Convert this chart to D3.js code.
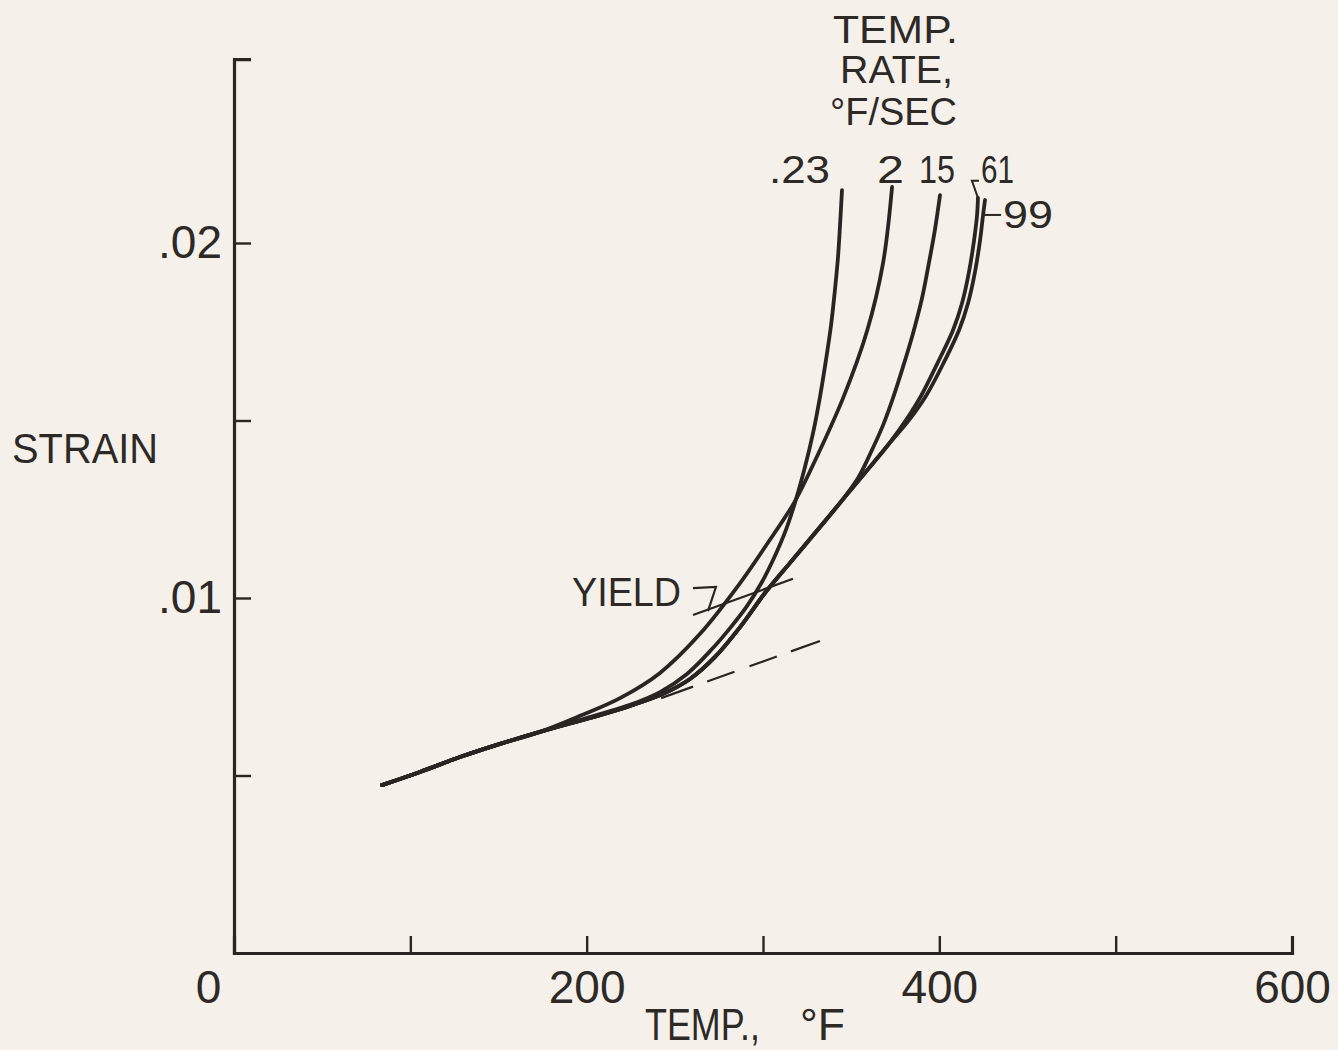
<!DOCTYPE html>
<html>
<head>
<meta charset="utf-8">
<script src="https://cdn.jsdelivr.net/npm/d3@7"></script>
<style>
  body { margin: 0; background: #f5f1ea; }
  svg { display: block; }
  text { font-family: "Liberation Sans", Arial, sans-serif; fill: #2d2926; }
</style>
</head>
<body>
<div id="chart"></div>
<script>
// temperature (deg F) / strain pairs
const rateLabels = [".23", "2", "15", "61", "99"];

// part shared by every curve
const trunk = [[83.9, 0.00473], [105.5, 0.0051], [128.2, 0.00552], [150.9, 0.00589], [173.5, 0.00623]];

const rate023 = [
  [207.6, 0.00673], [224.6, 0.00699], [241.6, 0.00735], [256.9, 0.00786], [271.6, 0.00859],
  [281.3, 0.00915], [290.9, 0.00977], [299.4, 0.01045], [305.7, 0.01107], [313.0, 0.01192],
  [318.1, 0.01268], [323.8, 0.01369], [328.4, 0.01465], [332.3, 0.01566], [335.7, 0.0167],
  [338.6, 0.01769], [340.8, 0.01868], [342.5, 0.01958], [343.7, 0.02051], [344.8, 0.02149]
];

const rate2 = [
  [196.2, 0.00668], [218.9, 0.00718], [241.6, 0.00789], [264.3, 0.00899], [287.0, 0.01042],
  [302.3, 0.01152], [317.6, 0.01268], [327.8, 0.01369], [345.4, 0.01563], [359.0, 0.01752],
  [368.1, 0.01944], [373.2, 0.02158]
];

// lower branch shared by the three fast rates
const fastBranch = [
  [207.6, 0.0067], [224.6, 0.00696], [243.3, 0.0073], [258.6, 0.00772], [272.8, 0.00834],
  [287.0, 0.00918], [301.1, 0.01014], [315.3, 0.01099], [329.5, 0.01183], [343.7, 0.01268]
];

const rate15 = [
  [353.9, 0.01338], [361.8, 0.01417], [368.1, 0.01487], [373.7, 0.01563], [379.4, 0.01651],
  [385.1, 0.01746], [390.2, 0.01845], [394.1, 0.01944], [397.5, 0.02037], [400.4, 0.02135]
];

const rate61 = [
  [357.8, 0.01352], [370.9, 0.01431], [381.1, 0.01501], [389.6, 0.01569], [398.7, 0.01659],
  [407.8, 0.01755], [412.9, 0.01831], [416.8, 0.01918], [419.7, 0.02008], [421.4, 0.02079],
  [421.9, 0.02127]
];

const rate99 = [
  [357.8, 0.01352], [370.9, 0.01431], [382.8, 0.01501], [392.4, 0.01569], [402.1, 0.01659],
  [411.2, 0.01755], [416.3, 0.01831], [420.2, 0.01918], [423.1, 0.02008], [424.8, 0.02079],
  [425.9, 0.02121]
];

// elastic line (dashed) and the 0.002 offset line for yield
const elasticLine = [[242.2, 0.00718], [332.3, 0.00879]];
const offsetLine = [[260.3, 0.00952], [317.0, 0.01054]];

const xTicks = [0, 100, 200, 300, 400, 500, 600];
const xTickLabels = { 0: "0", 200: "200", 400: "400", 600: "600" };
const yTicks = [0.005, 0.01, 0.015, 0.02];
const yTickLabels = { 0.01: ".01", 0.02: ".02" };

const ink = "#2a2522";
const width = 1338;
const height = 1050;

const svg = d3
  .select("#chart")
  .append("svg")
  .attr("width", width)
  .attr("height", height);

const x = d3.scaleLinear().domain([0, 600]).range([234, 1292]);
const y = d3.scaleLinear().domain([0, 0.02518]).range([953, 59.1]);

// X axis
const xAxis = svg
  .append("g")
  .attr("transform", `translate(0,${y(0)})`)
  .call(
    d3.axisBottom(x)
      .tickValues(xTicks)
      .tickSizeInner(-17)
      .tickSizeOuter(-17)
      .tickPadding(17)
      .tickFormat((d) => xTickLabels[d] || "")
  );
xAxis.selectAll(".tick text").filter((d) => d === 0).attr("x", -26);

// Y axis
const yAxis = svg
  .append("g")
  .attr("transform", `translate(${x(0)},0)`)
  .call(
    d3.axisLeft(y)
      .tickValues(yTicks)
      .tickSizeInner(-17)
      .tickSizeOuter(-17)
      .tickPadding(12)
      .tickFormat((d) => yTickLabels[d] || "")
  );

[xAxis, yAxis].forEach((g) => {
  g.attr("color", ink).attr("font-family", null).attr("font-size", null);
  g.select(".domain").attr("stroke-width", 3.2);
  g.selectAll(".tick line").attr("stroke-width", 2.4);
  g.selectAll(".tick text").style("font-size", "46px");
});

// Axis titles
svg.append("text")
  .attr("x", 12).attr("y", 463)
  .attr("textLength", 146).attr("lengthAdjust", "spacingAndGlyphs")
  .style("font-size", "42px")
  .text("STRAIN");

svg.append("text")
  .attr("x", 645).attr("y", 1040)
  .attr("textLength", 115).attr("lengthAdjust", "spacingAndGlyphs")
  .style("font-size", "44px")
  .text("TEMP.,");
svg.append("text")
  .attr("x", 800).attr("y", 1040)
  .attr("textLength", 45).attr("lengthAdjust", "spacingAndGlyphs")
  .style("font-size", "44px")
  .text("°F");

// Curves
const curves = [
  trunk.concat(rate023),
  trunk.concat(rate2),
  trunk.concat(fastBranch, rate15),
  trunk.concat(fastBranch, rate61),
  trunk.concat(fastBranch, rate99),
];

const line = d3
  .line()
  .x((d) => x(d[0]))
  .y((d) => y(d[1]))
  .curve(d3.curveCatmullRom.alpha(0.5));

svg.append("g")
  .selectAll("path")
  .data(curves)
  .join("path")
  .attr("fill", "none")
  .attr("stroke", ink)
  .attr("stroke-width", 3.8)
  .attr("stroke-linecap", "round")
  .attr("d", line);

// Elastic line, dashed
svg.append("path")
  .datum(elasticLine)
  .attr("fill", "none")
  .attr("stroke", ink)
  .attr("stroke-width", 2.2)
  .attr("stroke-dasharray", "34 15 29 16 29 15 32")
  .attr("d", d3.line().x((d) => x(d[0])).y((d) => y(d[1])));

// Offset line for yield
svg.append("path")
  .datum(offsetLine)
  .attr("fill", "none")
  .attr("stroke", ink)
  .attr("stroke-width", 2.2)
  .attr("d", d3.line().x((d) => x(d[0])).y((d) => y(d[1])));

// YIELD label and its pointer
svg.append("text")
  .attr("x", 572).attr("y", 606)
  .attr("textLength", 109).attr("lengthAdjust", "spacingAndGlyphs")
  .style("font-size", "40px")
  .text("YIELD");

svg.append("path")
  .attr("fill", "none")
  .attr("stroke", ink)
  .attr("stroke-width", 2.2)
  .attr("d", `M${x(260.3)},${y(0.01028)} L${x(273.3)},${y(0.01031)} L${x(268.8)},${y(0.00963)}`);

// Legend title
const head = [
  { t: "TEMP.", x: 833, y: 43, len: 125 },
  { t: "RATE,", x: 840, y: 83, len: 113 },
  { t: "°F/SEC", x: 830, y: 125, len: 127 },
];
svg.append("g")
  .selectAll("text")
  .data(head)
  .join("text")
  .attr("x", (d) => d.x)
  .attr("y", (d) => d.y)
  .attr("textLength", (d) => d.len)
  .attr("lengthAdjust", "spacingAndGlyphs")
  .style("font-size", "39px")
  .text((d) => d.t);

// Rate labels over curve ends
const labelPos = [
  { x: 769, y: 183, len: 61 },
  { x: 877, y: 183, len: 27 },
  { x: 919, y: 183, len: 36 },
  { x: 981, y: 183, len: 33 },
  { x: 1003, y: 228, len: 50 },
];
svg.append("g")
  .selectAll("text")
  .data(rateLabels)
  .join("text")
  .attr("x", (d, i) => labelPos[i].x)
  .attr("y", (d, i) => labelPos[i].y)
  .attr("textLength", (d, i) => labelPos[i].len)
  .attr("lengthAdjust", "spacingAndGlyphs")
  .style("font-size", "39px")
  .text((d) => d);

// leaders for 61 and 99
const top61 = rate61[rate61.length - 1];
svg.append("path")
  .attr("fill", "none")
  .attr("stroke", ink)
  .attr("stroke-width", 2)
  .attr("d", `M${x(422.5)},${y(0.02175)} L${x(418.5)},${y(0.02175)} L${x(top61[0])},${y(top61[1])}`);

svg.append("path")
  .attr("fill", "none")
  .attr("stroke", ink)
  .attr("stroke-width", 2)
  .attr("d", `M${x(425.5)},${y(0.02079)} L${x(435.0)},${y(0.02079)}`);
</script>
</body>
</html>
